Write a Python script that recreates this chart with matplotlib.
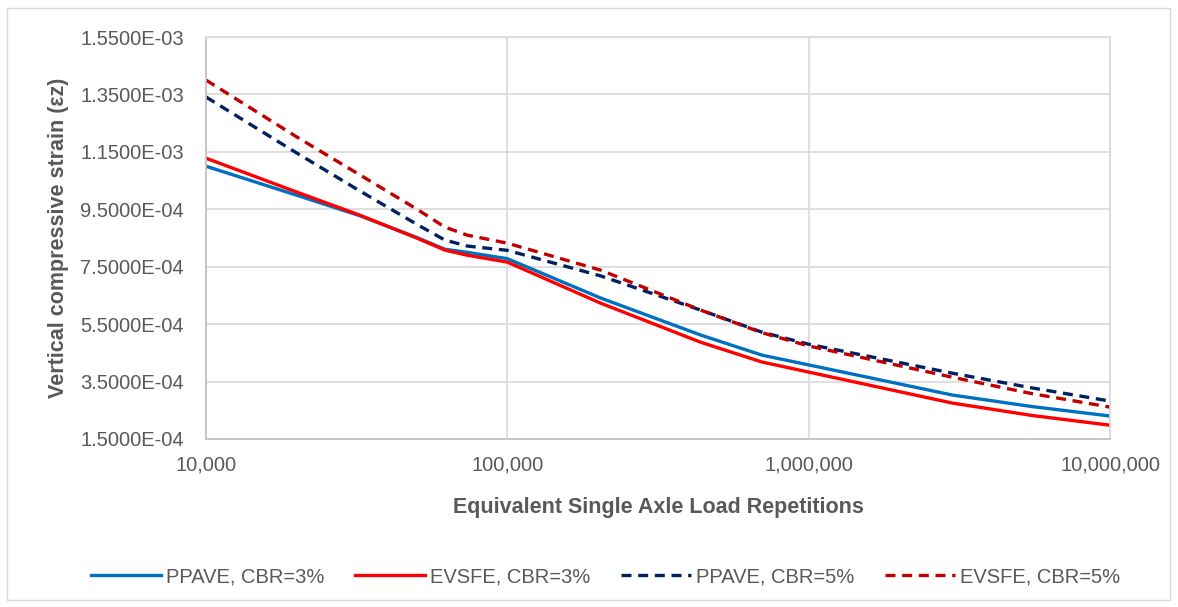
import numpy as np
import matplotlib.pyplot as plt
from matplotlib.patches import Rectangle
from matplotlib.ticker import FixedLocator, FuncFormatter, NullLocator

plt.rcParams['font.family'] = ['Liberation Sans', 'DejaVu Sans']

# load repetitions (ESAL)
esal = [1e4, 2e4, 3.25e4, 5e4, 6.2e4, 7.36e4, 1e5, 2.04e5, 4.38e5, 7e5, 1e6, 3e6, 5.5e6, 1e7]

ppave_3 = [1.100e-3, 9.99e-4, 9.27e-4, 8.52e-4, 8.11e-4, 8.00e-4, 7.78e-4, 6.41e-4, 5.12e-4, 4.42e-4, 4.08e-4, 3.03e-4, 2.63e-4, 2.30e-4]
evsfe_3 = [1.128e-3, 1.010e-3, 9.29e-4, 8.50e-4, 8.08e-4, 7.90e-4, 7.66e-4, 6.23e-4, 4.87e-4, 4.18e-4, 3.83e-4, 2.75e-4, 2.32e-4, 1.98e-4]
ppave_5 = [1.341e-3, 1.146e-3, 1.013e-3, 8.98e-4, 8.43e-4, 8.22e-4, 8.07e-4, 7.18e-4, 5.99e-4, 5.22e-4, 4.80e-4, 3.79e-4, 3.28e-4, 2.82e-4]
evsfe_5 = [1.400e-3, 1.202e-3, 1.069e-3, 9.51e-4, 8.88e-4, 8.60e-4, 8.32e-4, 7.38e-4, 5.99e-4, 5.20e-4, 4.74e-4, 3.65e-4, 3.08e-4, 2.61e-4]

y_ticks = [1.5e-4, 3.5e-4, 5.5e-4, 7.5e-4, 9.5e-4, 1.15e-3, 1.35e-3, 1.55e-3]
x_ticks = [1e4, 1e5, 1e6, 1e7]

gray = '#595959'
grid_c = '#d9d9d9'

fig = plt.figure(figsize=(11.78, 6.07), dpi=100)
ax = fig.add_axes([0.1749, 0.2768, 0.7674, 0.6622])

ax.plot(esal, ppave_3, color='#0070C0', lw=2.4, label='PPAVE, CBR=3%', solid_joinstyle='round')
ax.plot(esal, evsfe_3, color='#FF0000', lw=2.4, label='EVSFE, CBR=3%', solid_joinstyle='round')
ax.plot(esal, ppave_5, color='#002060', lw=2.4, ls=(0, (3, 2)), label='PPAVE, CBR=5%')
ax.plot(esal, evsfe_5, color='#C00000', lw=2.4, ls=(0, (3, 2)), label='EVSFE, CBR=5%')

ax.set_xscale('log')
ax.set_xlim(1e4, 1e7)
ax.set_ylim(1.5e-4, 1.55e-3)
ax.xaxis.set_major_locator(FixedLocator(x_ticks))
ax.xaxis.set_minor_locator(NullLocator())
ax.yaxis.set_major_locator(FixedLocator(y_ticks))
ax.xaxis.set_major_formatter(FuncFormatter(lambda v, p: f"{int(round(v)):,}"))
ax.yaxis.set_major_formatter(FuncFormatter(lambda v, p: f"{v:.4E}"))
ax.tick_params(length=0, labelsize=14.5, labelcolor=gray)
ax.tick_params(axis='y', pad=16)
ax.tick_params(axis='x', pad=12)

ax.grid(True, color=grid_c, lw=1.2)
ax.set_axisbelow(True)
for s in ax.spines.values():
    s.set_color(grid_c)
    s.set_linewidth(1.2)
ax.spines['left'].set_color('#bfbfbf')
ax.spines['bottom'].set_color('#bfbfbf')

ax.set_xlabel('Equivalent Single Axle Load Repetitions', fontsize=15.5, fontweight='bold', color=gray, labelpad=16)
ax.set_ylabel('Vertical compressive strain (εz)', fontsize=15.5, fontweight='bold', color=gray, labelpad=8)

fig.legend(loc='center', bbox_to_anchor=(0.514, 0.05), ncol=4, frameon=False,
           fontsize=14.5, labelcolor=gray, handlelength=3.5, handletextpad=0.25, columnspacing=1.5)

fig.patches.append(Rectangle((7 / 1178, 7 / 607), 1163 / 1178, 592 / 607, transform=fig.transFigure,
                             fill=False, edgecolor=grid_c, lw=1))

fig.savefig('out.png', dpi=100)
